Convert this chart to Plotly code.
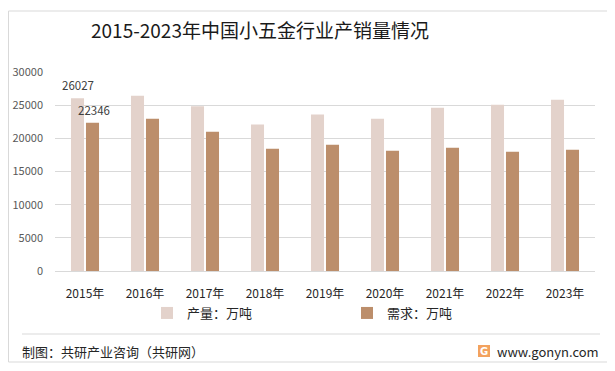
import plotly.graph_objects as go

years = ["2015年", "2016年", "2017年", "2018年", "2019年", "2020年", "2021年", "2022年", "2023年"]
production = [26027, 26430, 24820, 22100, 23610, 22960, 24620, 25070, 25830]
demand = [22346, 22960, 21000, 18430, 19030, 18130, 18580, 17980, 18280]
y_ticks = [0, 5000, 10000, 15000, 20000, 25000, 30000]

FONT = "Noto Sans CJK SC, Microsoft YaHei, sans-serif"
OFF = 8  # page body margin offset in the browser
W, H = 615 - OFF, 371 - OFF
# plot area in screen px: x 55..595, y 72..271
L, R, T, B = 55 - OFF, W - (595 - OFF), 72 - OFF, H - (271 - OFF)
PW, PH = W - L - R, H - T - B


def px_x(x):
    return (x - OFF - L) / PW


def px_y(y):
    return (H - B - (y - OFF)) / PH


fig = go.Figure()
fig.add_trace(go.Bar(
    x=years, y=production, name="产量：万吨",
    marker=dict(color="#E3D2CB", line=dict(width=0)),
))
fig.add_trace(go.Bar(
    x=years, y=demand, name="需求：万吨",
    marker=dict(color="#BC8E6B", line=dict(width=0)),
))

annotations = [
    dict(x=years[0], y=production[0], xref="x", yref="y", text=str(production[0]),
         showarrow=False, yanchor="bottom", xshift=-7, yshift=3,
         font=dict(family=FONT, size=11.5, color="#404040")),
    dict(x=years[0], y=demand[0], xref="x", yref="y", text=str(demand[0]),
         showarrow=False, yanchor="bottom", xshift=9, yshift=3,
         font=dict(family=FONT, size=11.5, color="#404040")),
    dict(x=px_x(89), y=px_y(30), xref="paper", yref="paper", xanchor="left", yanchor="middle",
         text="2015-2023年中国小五金行业产销量情况", showarrow=False,
         font=dict(family=FONT, size=19, color="#1a1a1a")),
    dict(x=px_x(20), y=px_y(351), xref="paper", yref="paper", xanchor="left", yanchor="middle",
         text="制图：共研产业咨询（共研网）", showarrow=False,
         font=dict(family=FONT, size=13, color="#262626")),
    dict(x=px_x(495), y=px_y(351), xref="paper", yref="paper", xanchor="left", yanchor="middle",
         text="www.gonyn.com", showarrow=False,
         font=dict(family=FONT, size=13, color="#262626")),
    dict(x=px_x(484), y=px_y(351), xref="paper", yref="paper", xanchor="center", yanchor="middle",
         text="<b>G</b>", showarrow=False,
         font=dict(family="DejaVu Sans", size=10, color="#ffffff")),
]

shapes = [
    # outer border
    dict(type="rect", xref="paper", yref="paper",
         x0=px_x(8.5), x1=px_x(609), y0=px_y(11), y1=px_y(362),
         line=dict(color="#D9D9D9", width=1), fillcolor="rgba(0,0,0,0)", layer="below"),
    # separator line
    dict(type="line", xref="paper", yref="paper",
         x0=px_x(22), x1=px_x(600), y0=px_y(334), y1=px_y(334),
         line=dict(color="#D9D9D9", width=1)),
    # logo
    dict(type="rect", xref="paper", yref="paper",
         x0=px_x(478), x1=px_x(490), y0=px_y(345), y1=px_y(357),
         line=dict(width=0), fillcolor="#F3A25E"),
]

fig.update_layout(
    width=W, height=H,
    margin=dict(l=L, r=R, t=T, b=B, autoexpand=False),
    paper_bgcolor="#ffffff", plot_bgcolor="#ffffff",
    barmode="group", bargap=0.5, bargroupgap=0.13,
    font=dict(family=FONT, color="#404040"),
    showlegend=True,
    legend=dict(orientation="h", xref="paper", yref="paper",
                x=px_x(147), y=px_y(313), xanchor="left", yanchor="middle",
                entrywidth=155, entrywidthmode="pixels",
                font=dict(family=FONT, size=13, color="#262626"),
                bgcolor="rgba(0,0,0,0)", itemclick=False),
    xaxis=dict(
        type="category", showgrid=False, showline=False, zeroline=False,
        ticks="", tickfont=dict(family=FONT, size=12, color="#262626"),
        ticklabelstandoff=14, automargin=False,
    ),
    yaxis=dict(
        range=[0, 30000], tickvals=y_ticks, ticktext=[str(v) for v in y_ticks],
        showgrid=True, gridcolor="#D9D9D9", gridwidth=1,
        zeroline=True, zerolinecolor="#D9D9D9", zerolinewidth=1,
        showline=False, ticks="",
        tickfont=dict(family=FONT, size=11, color="#595959"),
        ticklabelstandoff=11, automargin=False,
    ),
    annotations=annotations,
    shapes=shapes,
)

fig.write_html("out.html")
